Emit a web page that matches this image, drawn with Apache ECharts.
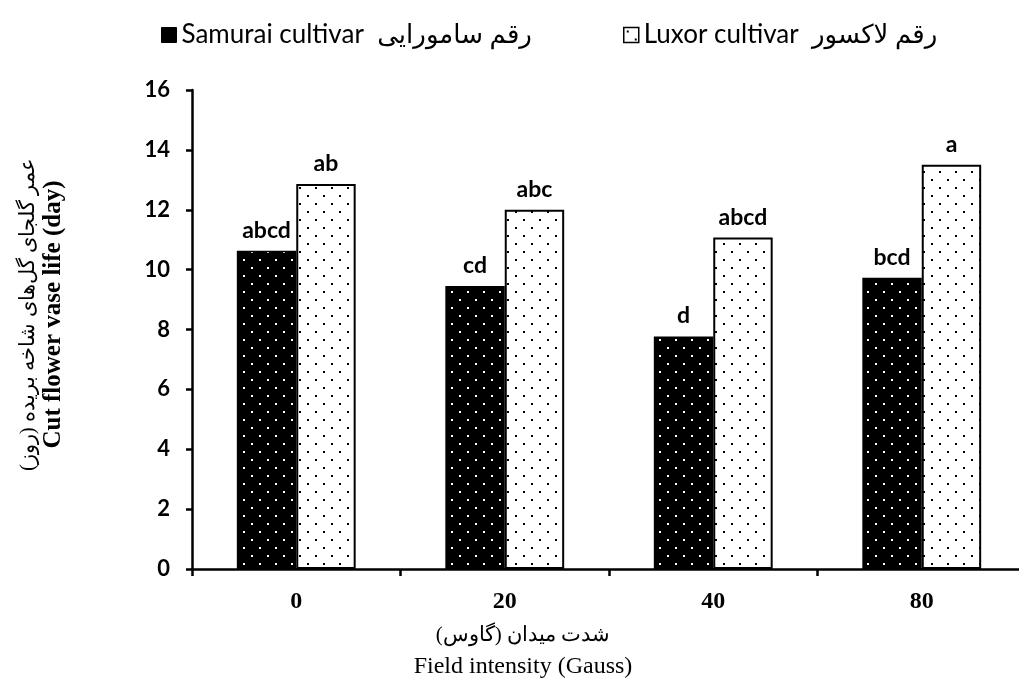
<!DOCTYPE html>
<html lang="en">
<head>
    <meta charset="UTF-8">
    <title>Cut flower vase life</title>
    <script type="text/javascript" src="https://cdn.jsdelivr.net/npm/echarts@6/dist/echarts.min.js"></script>
    <style>
        html, body {
            width: 100%;
            height: 100%;
            margin: 0;
            padding: 0;
            background: #fff;
        }
        #main {
            width: 1019px;
            height: 681px;
        }
    </style>
</head>
<body>
    <div id="main"></div>
    <script>
        // data
        var categories = ['0', '20', '40', '80'];
        var samurai = [10.63, 9.45, 7.77, 9.73];
        var luxor = [12.86, 12.0, 11.07, 13.5];
        var samuraiLetters = ['abcd', 'cd', 'd', 'bcd'];
        var luxorLetters = ['ab', 'abc', 'abcd', 'a'];
        var yTicks = [0, 2, 4, 6, 8, 10, 12, 14, 16];

        var samuraiName = 'Samurai cultivar  رقم سامورایی';
        var luxorName = 'Luxor cultivar  رقم لاکسور';

        // dotted fill for the bars
        function dots(bg, fg) {
            var c = document.createElement('canvas');
            c.width = 16;
            c.height = 16;
            var ctx = c.getContext('2d');
            ctx.fillStyle = bg;
            ctx.fillRect(0, 0, 16, 16);
            ctx.fillStyle = fg;
            ctx.fillRect(3, 3, 2, 2);
            ctx.fillRect(11, 11, 2, 2);
            return { image: c, repeat: 'repeat' };
        }
        var blackDots = dots('#000', '#fff');
        var whiteDots = dots('#fff', '#000');

        var sans = 'Lato, "DejaVu Sans", sans-serif';
        var serif = '"Liberation Serif", "DejaVu Serif", serif';

        var myChart = echarts.init(document.getElementById('main'));

        var legendText = { fontFamily: sans, fontSize: 26, color: '#000' };

        var option = {
            backgroundColor: '#fff',
            animation: false,
            legend: [{
                left: 156,
                top: 17,
                itemWidth: 15,
                itemHeight: 15,
                textStyle: legendText,
                data: [{ name: samuraiName, icon: 'rect', itemStyle: { color: '#000', borderColor: '#000', borderWidth: 1 } }]
            }, {
                left: 618,
                top: 17,
                itemWidth: 15,
                itemHeight: 15,
                textStyle: legendText,
                data: [{ name: luxorName, icon: 'rect', itemStyle: { color: whiteDots, borderColor: '#000', borderWidth: 1.5 } }]
            }],
            grid: {
                left: 192,
                right: -7,
                top: 90,
                bottom: 112,
                outerBoundsMode: 'none'
            },
            xAxis: {
                type: 'category',
                data: categories,
                axisLine: { lineStyle: { color: '#000', width: 2.5 } },
                axisTick: { show: true, length: 7, lineStyle: { color: '#000', width: 2.5 } },
                axisLabel: {
                    margin: 21,
                    fontFamily: serif,
                    fontWeight: 'bold',
                    fontSize: 24,
                    color: '#000'
                },
                name: '{fa|شدت میدان (گاوس)}\n{en|Field intensity (Gauss)}',
                nameLocation: 'middle',
                nameGap: 50,
                nameTextStyle: {
                    color: '#000',
                    padding: [0, 172, 0, 0],
                    rich: {
                        fa: { fontFamily: serif, fontSize: 21, lineHeight: 32, color: '#000' },
                        en: { fontFamily: serif, fontSize: 24, lineHeight: 32, color: '#000' }
                    }
                }
            },
            yAxis: {
                type: 'value',
                min: yTicks[0],
                max: yTicks[yTicks.length - 1],
                interval: 2,
                splitLine: { show: false },
                axisLine: { show: true, lineStyle: { color: '#000', width: 2.5 } },
                axisTick: { show: true, length: 6, lineStyle: { color: '#000', width: 2.5 } },
                axisLabel: {
                    margin: 22,
                    fontFamily: sans,
                    fontWeight: 'bold',
                    fontSize: 22,
                    color: '#000'
                },
                name: '{fa|عمر گلجای گل‌های شاخه بریده (روز)}\n{en|Cut flower vase life (day)}',
                nameLocation: 'middle',
                nameRotate: 90,
                nameGap: 126,
                nameTextStyle: {
                    color: '#000',
                    padding: [0, 0, 0, 30],
                    rich: {
                        fa: { fontFamily: serif, fontSize: 21, lineHeight: 25, color: '#000' },
                        en: { fontFamily: serif, fontSize: 25, fontWeight: 'bold', lineHeight: 25, color: '#000' }
                    }
                }
            },
            series: [{
                name: samuraiName,
                type: 'bar',
                data: samurai,
                barGap: '0%',
                barCategoryGap: '43%',
                itemStyle: { color: blackDots, borderColor: '#000', borderWidth: 1.5 },
                label: {
                    show: true,
                    position: 'top',
                    distance: 9,
                    fontFamily: sans,
                    fontWeight: 'bold',
                    fontSize: 23,
                    color: '#000',
                    formatter: function (p) { return samuraiLetters[p.dataIndex]; }
                }
            }, {
                name: luxorName,
                type: 'bar',
                data: luxor,
                itemStyle: { color: whiteDots, borderColor: '#000', borderWidth: 2 },
                label: {
                    show: true,
                    position: 'top',
                    distance: 9,
                    fontFamily: sans,
                    fontWeight: 'bold',
                    fontSize: 23,
                    color: '#000',
                    formatter: function (p) { return luxorLetters[p.dataIndex]; }
                }
            }]
        };
        myChart.setOption(option);

        window.addEventListener('resize', function () {
            myChart.resize();
        });
    </script>
</body>
</html>
